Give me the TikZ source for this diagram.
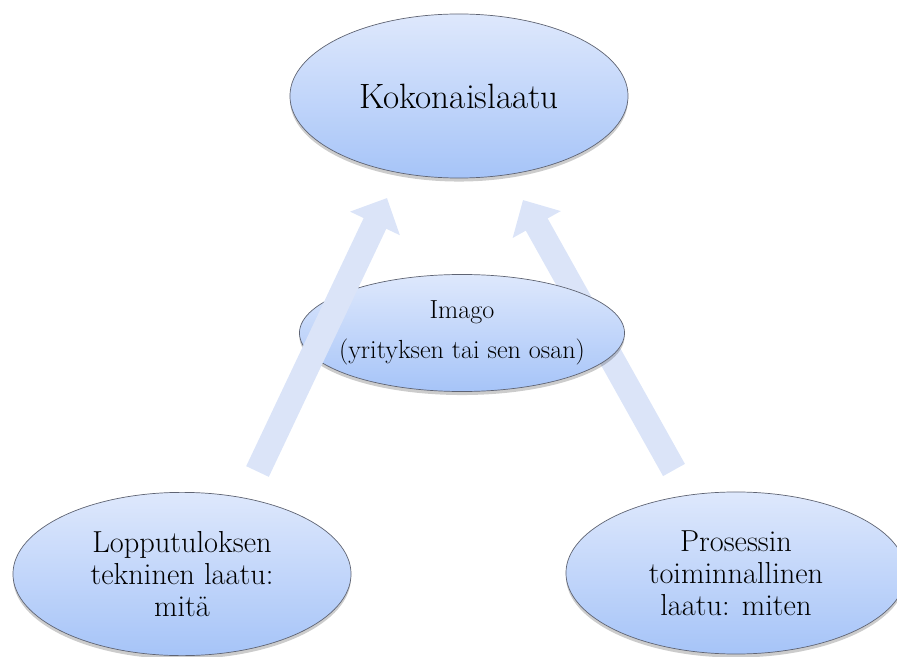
\documentclass[tikz,border=0pt]{standalone}
\usepackage{fontspec}
\usetikzlibrary{arrows.meta,shadows,shapes.geometric}
\definecolor{ovaltop}{RGB}{222,232,252}
\definecolor{ovalbot}{RGB}{166,196,248}
\definecolor{ovalrim}{RGB}{95,100,115}
\definecolor{flowblue}{RGB}{219,228,248}

\begin{document}
\begin{tikzpicture}[x=0.025cm,y=-0.025cm,
    oval/.style={ellipse,draw=ovalrim,line width=0.5pt,top color=ovaltop,bottom color=ovalbot,
        align=center,inner sep=0pt,
        drop shadow={shadow xshift=0pt,shadow yshift=-2.5pt,opacity=0.2,fill=black}},
    flow/.style={draw=flowblue,line width=17.8pt,-{Triangle[width=38pt,length=20pt]}}]
    \useasboundingbox (0,0) rectangle (897,657);
    \node[oval,minimum width=8.45cm,minimum height=4.1cm,font=\fontsize{25}{30}\selectfont] (koko) at (459,96) {Kokonaislaatu};
    \node[oval,minimum width=8.45cm,minimum height=4.08cm,font=\fontsize{21.6}{22.8}\selectfont] (loppu) at (182,574)
        {Lopputuloksen\\tekninen laatu:\\mitä};
    \node[oval,minimum width=8.5cm,minimum height=4.05cm,font=\fontsize{21.6}{22.8}\selectfont] (prosessi) at (736,573)
        {Prosessin\\toiminnallinen\\laatu: miten};
    \coordinate (tailL) at (257.5,471.5); \coordinate (tipL) at (387,198);
    \coordinate (tailR) at (674,470); \coordinate (tipR) at (523,200);
    \draw[flow] (tailR) -- (tipR);
    \node[oval,minimum width=8.125cm,minimum height=2.925cm,inner xsep=-14pt,font=\fontsize{18.6}{28.4}\selectfont] (imago) at (462,333)
        {Imago\\(yrityksen tai sen osan)};
    \draw[flow] (tailL) -- (tipL);
\end{tikzpicture}
\end{document}
